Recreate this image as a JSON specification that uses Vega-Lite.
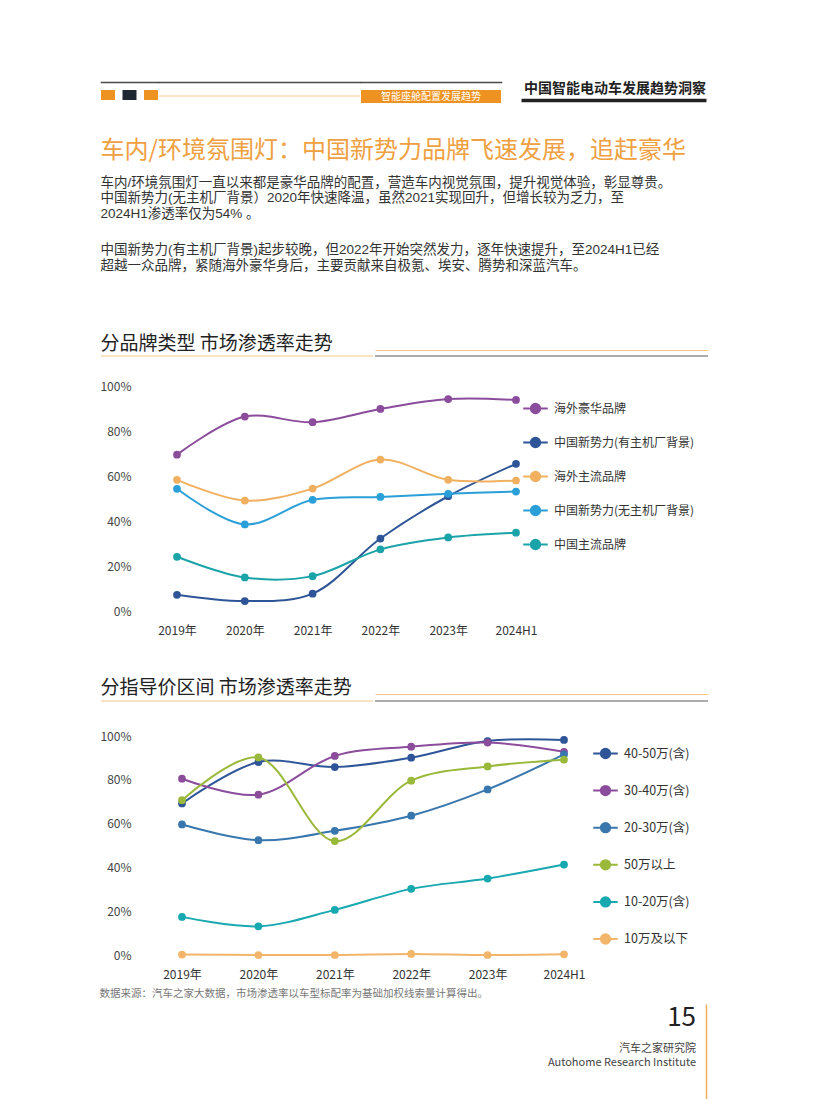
{
  "$schema": "https://vega.github.io/schema/vega-lite/v6.json",
  "background": "white",
  "padding": {"left": 99, "top": 82, "right": 0, "bottom": 0},
  "spacing": 0,
  "resolve": {"scale": {"color": "independent"}, "legend": {"color": "independent"}},
  "config": {
    "font": "Noto Sans CJK SC",
    "view": {"stroke": null},
    "axis": {"grid": false, "domain": false, "ticks": false, "labelFont": "Noto Sans CJK SC", "labelColor": "#444444", "labelFontSize": 12},
    "title": {"font": "Noto Sans CJK SC", "subtitleFont": "Noto Sans CJK SC", "anchor": "start", "fontWeight": "normal", "color": "#222222"},
    "legend": {"labelFont": "Noto Sans CJK SC", "labelColor": "#333333"},
    "concat": {"spacing": 0}
  },
  "datasets": {
    "brand": [
      {"year": "2019年", "brand": "海外豪华品牌", "value": 69.5},
      {"year": "2020年", "brand": "海外豪华品牌", "value": 86.4},
      {"year": "2021年", "brand": "海外豪华品牌", "value": 83.9},
      {"year": "2022年", "brand": "海外豪华品牌", "value": 89.8},
      {"year": "2023年", "brand": "海外豪华品牌", "value": 94.2},
      {"year": "2024H1", "brand": "海外豪华品牌", "value": 93.8},
      {"year": "2019年", "brand": "中国新势力(有主机厂背景)", "value": 7.2},
      {"year": "2020年", "brand": "中国新势力(有主机厂背景)", "value": 4.4},
      {"year": "2021年", "brand": "中国新势力(有主机厂背景)", "value": 7.7},
      {"year": "2022年", "brand": "中国新势力(有主机厂背景)", "value": 32.2},
      {"year": "2023年", "brand": "中国新势力(有主机厂背景)", "value": 51.0},
      {"year": "2024H1", "brand": "中国新势力(有主机厂背景)", "value": 65.4},
      {"year": "2019年", "brand": "海外主流品牌", "value": 58.3},
      {"year": "2020年", "brand": "海外主流品牌", "value": 49.1},
      {"year": "2021年", "brand": "海外主流品牌", "value": 54.4},
      {"year": "2022年", "brand": "海外主流品牌", "value": 67.3},
      {"year": "2023年", "brand": "海外主流品牌", "value": 58.3},
      {"year": "2024H1", "brand": "海外主流品牌", "value": 58.0},
      {"year": "2019年", "brand": "中国新势力(无主机厂背景)", "value": 54.3},
      {"year": "2020年", "brand": "中国新势力(无主机厂背景)", "value": 38.5},
      {"year": "2021年", "brand": "中国新势力(无主机厂背景)", "value": 49.4},
      {"year": "2022年", "brand": "中国新势力(无主机厂背景)", "value": 50.7},
      {"year": "2023年", "brand": "中国新势力(无主机厂背景)", "value": 52.1},
      {"year": "2024H1", "brand": "中国新势力(无主机厂背景)", "value": 53.1},
      {"year": "2019年", "brand": "中国主流品牌", "value": 24.1},
      {"year": "2020年", "brand": "中国主流品牌", "value": 14.9},
      {"year": "2021年", "brand": "中国主流品牌", "value": 15.5},
      {"year": "2022年", "brand": "中国主流品牌", "value": 27.4},
      {"year": "2023年", "brand": "中国主流品牌", "value": 32.7},
      {"year": "2024H1", "brand": "中国主流品牌", "value": 34.8}
    ],
    "price": [
      {"year": "2019年", "band": "40-50万(含)", "value": 69.2},
      {"year": "2020年", "band": "40-50万(含)", "value": 88.1},
      {"year": "2021年", "band": "40-50万(含)", "value": 85.8},
      {"year": "2022年", "band": "40-50万(含)", "value": 90.1},
      {"year": "2023年", "band": "40-50万(含)", "value": 97.7},
      {"year": "2024H1", "band": "40-50万(含)", "value": 98.2},
      {"year": "2019年", "band": "30-40万(含)", "value": 80.5},
      {"year": "2020年", "band": "30-40万(含)", "value": 73.2},
      {"year": "2021年", "band": "30-40万(含)", "value": 90.9},
      {"year": "2022年", "band": "30-40万(含)", "value": 95.1},
      {"year": "2023年", "band": "30-40万(含)", "value": 97.0},
      {"year": "2024H1", "band": "30-40万(含)", "value": 92.8},
      {"year": "2019年", "band": "20-30万(含)", "value": 59.6},
      {"year": "2020年", "band": "20-30万(含)", "value": 52.4},
      {"year": "2021年", "band": "20-30万(含)", "value": 56.7},
      {"year": "2022年", "band": "20-30万(含)", "value": 63.6},
      {"year": "2023年", "band": "20-30万(含)", "value": 75.6},
      {"year": "2024H1", "band": "20-30万(含)", "value": 91.6},
      {"year": "2019年", "band": "50万以上", "value": 70.7},
      {"year": "2020年", "band": "50万以上", "value": 90.2},
      {"year": "2021年", "band": "50万以上", "value": 52.0},
      {"year": "2022年", "band": "50万以上", "value": 79.6},
      {"year": "2023年", "band": "50万以上", "value": 86.1},
      {"year": "2024H1", "band": "50万以上", "value": 89.2},
      {"year": "2019年", "band": "10-20万(含)", "value": 17.4},
      {"year": "2020年", "band": "10-20万(含)", "value": 13.1},
      {"year": "2021年", "band": "10-20万(含)", "value": 20.6},
      {"year": "2022年", "band": "10-20万(含)", "value": 30.2},
      {"year": "2023年", "band": "10-20万(含)", "value": 34.9},
      {"year": "2024H1", "band": "10-20万(含)", "value": 41.3},
      {"year": "2019年", "band": "10万及以下", "value": 0.2},
      {"year": "2020年", "band": "10万及以下", "value": 0.0},
      {"year": "2021年", "band": "10万及以下", "value": 0.0},
      {"year": "2022年", "band": "10万及以下", "value": 0.5},
      {"year": "2023年", "band": "10万及以下", "value": 0.0},
      {"year": "2024H1", "band": "10万及以下", "value": 0.3}
    ]
  },
  "vconcat": [
    {
      "spacing": 0,
      "hconcat": [
        {
          "width": 57, "height": 10,
          "data": {"values": [{"s": "a"}, {"s": "b"}, {"s": "c"}]},
          "mark": {"type": "bar"},
          "encoding": {
            "x": {"field": "s", "type": "nominal", "scale": {"paddingInner": 0.35, "paddingOuter": 0}, "axis": {"orient": "top", "domain": true, "domainColor": "#4a4a4a", "domainWidth": 1.5, "domainCap": "square", "labels": false, "ticks": false, "title": null, "offset": 8}},
            "color": {"field": "s", "type": "nominal", "legend": null, "scale": {"range": ["#EE9322", "#1F2733", "#EE9322"]}}
          }
        },
        {
          "width": 201, "height": 6,
          "data": {"values": [{}]},
          "layer": [
            {"mark": {"type": "rule", "opacity": 0}, "encoding": {"x": {"datum": 0, "type": "quantitative", "scale": {"domain": [0, 1]}, "axis": {"orient": "top", "domain": true, "domainColor": "#4a4a4a", "domainWidth": 1.5, "domainCap": "square", "labels": false, "ticks": false, "title": null, "offset": 8}}}},
            {"mark": {"type": "rule", "color": "#F4C88C", "strokeWidth": 1}, "encoding": {"y": {"value": "height"}}}
          ]
        },
        {
          "width": 140, "height": 13,
          "data": {"values": [{"t": "智能座舱配置发展趋势"}]},
          "layer": [
            {"mark": {"type": "rule", "opacity": 0}, "encoding": {"x": {"datum": 0, "type": "quantitative", "scale": {"domain": [0, 1]}, "axis": {"orient": "top", "domain": true, "domainColor": "#4a4a4a", "domainWidth": 1.5, "domainCap": "square", "labels": false, "ticks": false, "title": null, "offset": 8}}}},
            {"mark": {"type": "rect", "color": "#EE9322"}, "encoding": {}},
            {"mark": {"type": "text", "color": "white", "fontSize": 10, "align": "center", "baseline": "middle"}, "encoding": {"text": {"field": "t", "type": "nominal"}}}
          ]
        },
        {"width": 19, "height": 1, "data": {"values": [{}]}, "mark": {"type": "rule", "opacity": 0}, "encoding": {}},
        {
          "width": 185, "height": 10,
          "title": {"text": "中国智能电动车发展趋势洞察", "anchor": "end", "fontSize": 14, "fontWeight": "bold", "color": "#222222", "offset": -6},
          "data": {"values": [{}]},
          "mark": {"type": "rule", "opacity": 0},
          "encoding": {"x": {"datum": 0, "type": "quantitative", "scale": {"domain": [0, 1]}, "axis": {"orient": "bottom", "domain": true, "domainColor": "#222222", "domainWidth": 3.5, "labels": false, "ticks": false, "title": null}}}
        }
      ]
    },
    {"width": 1, "height": 34, "data": {"values": [{}]}, "mark": {"type": "rule", "opacity": 0}, "encoding": {}},
    {
      "width": 605, "height": 22,
      "title": {
        "text": "车内/环境氛围灯：中国新势力品牌飞速发展，追赶豪华",
        "subtitle": [
          "车内/环境氛围灯一直以来都是豪华品牌的配置，营造车内视觉氛围，提升视觉体验，彰显尊贵。",
          "中国新势力(无主机厂背景）2020年快速降温，虽然2021实现回升，但增长较为乏力，至",
          "2024H1渗透率仅为54% 。"
        ],
        "fontSize": 24, "color": "#EFA040",
        "subtitleFont": "Liberation Sans, Noto Sans CJK SC",
        "subtitleFontSize": 13.5, "subtitleColor": "#333333", "subtitleLineHeight": 15.6, "subtitlePadding": 13, "offset": 0
      },
      "data": {"values": [{}]}, "mark": {"type": "rule", "opacity": 0}, "encoding": {}
    },
    {
      "width": 605, "height": 62,
      "title": {
        "text": [
          "中国新势力(有主机厂背景)起步较晚，但2022年开始突然发力，逐年快速提升，至2024H1已经",
          "超越一众品牌，紧随海外豪华身后，主要贡献来自极氪、埃安、腾势和深蓝汽车。"
        ],
        "font": "Liberation Sans, Noto Sans CJK SC",
        "fontSize": 13.5, "color": "#333333", "lineHeight": 15.6, "offset": 0
      },
      "data": {"values": [{}]}, "mark": {"type": "rule", "opacity": 0}, "encoding": {}
    },
    {
      "spacing": 0,
      "hconcat": [
        {
          "width": 272, "height": 6,
          "title": {"text": "分品牌类型  市场渗透率走势", "fontSize": 19, "color": "#222222", "offset": -4},
          "data": {"values": [{}]},
          "mark": {"type": "rule", "color": "#F4C88C", "strokeWidth": 1.2},
          "encoding": {"y": {"value": "height"}}
        },
        {
          "width": 333, "height": 6,
          "data": {"values": [{}]},
          "layer": [
            {"mark": {"type": "rule", "opacity": 0}, "encoding": {"x": {"datum": 0, "type": "quantitative", "scale": {"domain": [0, 1]}, "axis": {"orient": "top", "domain": true, "domainColor": "#F4C88C", "domainWidth": 1.2, "labels": false, "ticks": false, "title": null}}}},
            {"mark": {"type": "rule", "color": "#5a5a5a", "strokeWidth": 1.2}, "encoding": {"y": {"value": "height"}}}
          ]
        }
      ]
    },
    {"width": 1, "height": 22, "data": {"values": [{}]}, "mark": {"type": "rule", "opacity": 0}, "encoding": {}},
    {
      "width": 449, "height": 225,
      "data": {"name": "brand"},
      "encoding": {
        "x": {"field": "year", "type": "ordinal", "sort": null, "scale": {"type": "point", "range": [76, 415], "padding": 0}, "axis": {"labelAngle": 0, "labelPadding": 14, "title": null, "labelColor": "#333333"}},
        "y": {"field": "value", "type": "quantitative", "scale": {"domain": [0, 100]}, "axis": {"values": [0, 20, 40, 60, 80, 100], "labelExpr": "datum.value + '%'", "labelPadding": -30, "title": null}},
        "color": {
          "field": "brand", "type": "nominal",
          "scale": {
            "domain": ["海外豪华品牌", "中国新势力(有主机厂背景)", "海外主流品牌", "中国新势力(无主机厂背景)", "中国主流品牌"],
            "range": ["#8B4C9C", "#2E5597", "#F0B060", "#2A9FD8", "#1AA3A8"]
          },
          "legend": {
            "title": null, "orient": "right", "offset": -37, "padding": 9,
            "symbolType": "M-1,0H1M-0.38,0A0.38,0.38,0,1,0,0.38,0A0.38,0.38,0,1,0,-0.38,0Z",
            "symbolSize": 600, "symbolStrokeWidth": 2, "rowPadding": 11, "labelFontSize": 12, "labelOffset": 5
          }
        }
      },
      "layer": [
        {"mark": {"type": "line", "interpolate": "catmull-rom", "strokeWidth": 2}},
        {"mark": {"type": "point", "filled": true, "size": 60, "opacity": 1}}
      ]
    },
    {"width": 1, "height": 42, "data": {"values": [{}]}, "mark": {"type": "rule", "opacity": 0}, "encoding": {}},
    {
      "spacing": 0,
      "hconcat": [
        {
          "width": 272, "height": 7,
          "title": {"text": "分指导价区间  市场渗透率走势", "fontSize": 19, "color": "#222222", "offset": -4},
          "data": {"values": [{}]},
          "mark": {"type": "rule", "color": "#F4C88C", "strokeWidth": 1.2},
          "encoding": {"y": {"value": "height"}}
        },
        {
          "width": 333, "height": 7,
          "data": {"values": [{}]},
          "layer": [
            {"mark": {"type": "rule", "opacity": 0}, "encoding": {"x": {"datum": 0, "type": "quantitative", "scale": {"domain": [0, 1]}, "axis": {"orient": "top", "domain": true, "domainColor": "#F4C88C", "domainWidth": 1.2, "labels": false, "ticks": false, "title": null}}}},
            {"mark": {"type": "rule", "color": "#5a5a5a", "strokeWidth": 1.2}, "encoding": {"y": {"value": "height"}}}
          ]
        }
      ]
    },
    {"width": 1, "height": 27, "data": {"values": [{}]}, "mark": {"type": "rule", "opacity": 0}, "encoding": {}},
    {
      "width": 480, "height": 219,
      "data": {"name": "price"},
      "encoding": {
        "x": {"field": "year", "type": "ordinal", "sort": null, "scale": {"type": "point", "range": [81, 463], "padding": 0},
          "axis": {"labelAngle": 0, "labelPadding": 14, "labelColor": "#333333",
            "title": "数据来源：汽车之家大数据，市场渗透率以车型标配率为基础加权线索量计算得出。",
            "titleFontSize": 10.5, "titleColor": "#777777", "titleFontWeight": "normal", "titleAnchor": "start", "titleAlign": "left", "titleX": -2, "titlePadding": 8}},
        "y": {"field": "value", "type": "quantitative", "scale": {"domain": [0, 100]}, "axis": {"values": [0, 20, 40, 60, 80, 100], "labelExpr": "datum.value + '%'", "labelPadding": -30, "title": null}},
        "color": {
          "field": "band", "type": "nominal",
          "scale": {
            "domain": ["40-50万(含)", "30-40万(含)", "20-30万(含)", "50万以上", "10-20万(含)", "10万及以下"],
            "range": ["#2E5597", "#8B4C9C", "#3877AD", "#9AB83A", "#17A8B0", "#F2B56A"]
          },
          "legend": {
            "title": null, "orient": "right", "offset": 7, "padding": 4,
            "symbolType": "M-1,0H1M-0.38,0A0.38,0.38,0,1,0,0.38,0A0.38,0.38,0,1,0,-0.38,0Z",
            "symbolSize": 600, "symbolStrokeWidth": 2, "rowPadding": 14.1, "labelFontSize": 12.5, "labelOffset": 5
          }
        }
      },
      "layer": [
        {"mark": {"type": "line", "interpolate": "catmull-rom", "strokeWidth": 2}},
        {"mark": {"type": "point", "filled": true, "size": 60, "opacity": 1}}
      ]
    },
    {"width": 1, "height": 3, "data": {"values": [{}]}, "mark": {"type": "rule", "opacity": 0}, "encoding": {}},
    {
      "spacing": 0,
      "hconcat": [
        {
          "width": 595, "height": 66,
          "title": {"text": "15", "subtitle": ["汽车之家研究院", "Autohome Research Institute"], "anchor": "end", "fontSize": 26, "color": "#222222", "subtitleFontSize": 11, "subtitleLineHeight": 14, "subtitleColor": "#444444", "subtitlePadding": 12, "offset": -64},
          "data": {"values": [{}]}, "mark": {"type": "rule", "opacity": 0}, "encoding": {}
        },
        {
          "width": 10, "height": 95,
          "data": {"values": [{}]},
          "mark": {"type": "rule", "opacity": 0},
          "encoding": {"y": {"datum": 0, "type": "quantitative", "scale": {"domain": [0, 1]}, "axis": {"orient": "right", "domain": true, "domainColor": "#F0B060", "domainWidth": 1.5, "labels": false, "ticks": false, "grid": false, "title": null}}}
        }
      ]
    }
  ]
}
